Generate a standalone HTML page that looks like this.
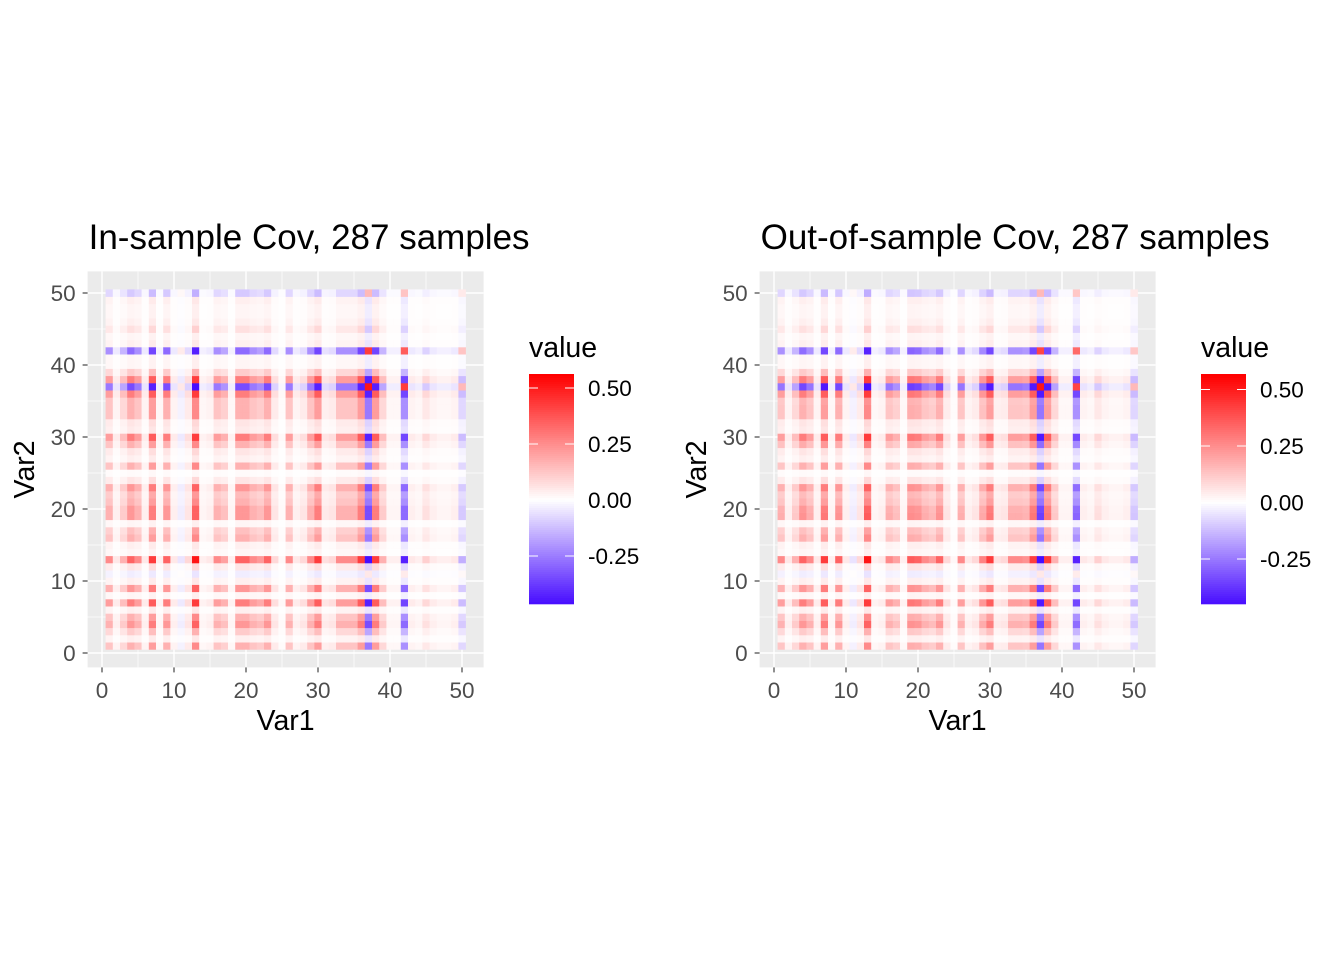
<!DOCTYPE html>
<html><head><meta charset="utf-8"><style>
html,body{margin:0;padding:0;background:#fff;}
svg{display:block;font-family:"Liberation Sans",Arial,sans-serif;}
</style></head><body>
<svg id="chart" width="1344" height="960" viewBox="0 0 1344 960" xmlns="http://www.w3.org/2000/svg">
<rect width="1344" height="960" fill="#fff"/>
</svg>
<script>
// Per-variable loading estimates (variables 1..50)
const variables = Array.from({length:50},(_,i)=>i+1);
const loadingsIn = [1.5,0.3,1,2,1.5,0.3,2.5,0.2,2,0.3,-0.3,0.5,3,0.2,0.3,1.5,1.2,0.2,2,2,1.5,1.3,2,0.5,0.1,1.5,0.3,0.5,1.5,2.5,0.4,0.5,1.5,1.5,1.5,2.5,-3,2.5,1,0.2,0.2,-2.5,0.3,0.2,0.6,0.3,0.2,0.2,0.3,-0.9];
const loadingsOut = [1.5,0.3,1,2,1.5,0.3,2.5,0.2,2,0.3,-0.3,0.5,3,0.2,0.3,1.5,1.2,0.2,2.1,2,1.5,1.3,2,0.5,0.1,1.5,0.3,0.5,1.6,2.5,0.4,0.5,1.5,1.5,1.4,2.5,-3,2.5,1,0.2,0.2,-2.4,0.3,0.2,0.6,0.3,0.2,0.2,0.3,-0.9];
const covScale = 0.057;
const xTicks = [0,10,20,30,40,50];
const yTicks = [0,10,20,30,40,50];
const legendTicksIn = [0.5,0.25,0,-0.25];
const legendTicksOut = [0.5,0.25,0,-0.25];
const limitsIn = [-0.464,0.558];
const limitsOut = [-0.45,0.56];

const NS="http://www.w3.org/2000/svg";
const svg=document.getElementById('chart');
function mk(tag,attrs,parent){const e=document.createElementNS(NS,tag);for(const k in attrs)e.setAttribute(k,attrs[k]);(parent||svg).appendChild(e);return e;}

function colorFor(v,lim){
  let r,g,b;
  if(v>=0){const t=Math.min(1,v/lim[1]);r=255;g=Math.round(255*(1-t));b=g;}
  else{const t=Math.min(1,v/lim[0]);r=Math.round(255*(1-0.72*t));g=Math.round(255*(1-0.95*t));b=255;}
  return `rgb(${r},${g},${b})`;
}

function panel(ox,title,loadings,lim,legTicks,legX,legScale0,legPer,name){
  const g=mk('g',{});
  
  
  const unit=7.2;
  const xs=v=>ox+v*unit;
  const ys=v=>653-v*unit;
  const bg=mk('rect',{x:xs(-2),y:ys(53),width:55*unit,height:55*unit,fill:'#EBEBEB'},g);
  
  
  for(let v=5;v<=45;v+=10){
    mk('line',{x1:xs(v),x2:xs(v),y1:ys(53),y2:ys(-2),stroke:'#fff','stroke-width':0.7},g);
    mk('line',{y1:ys(v),y2:ys(v),x1:xs(-2),x2:xs(53),stroke:'#fff','stroke-width':0.7},g);
  }
  xTicks.forEach(v=>mk('line',{x1:xs(v),x2:xs(v),y1:ys(53),y2:ys(-2),stroke:'#fff','stroke-width':1.4},g));
  yTicks.forEach(v=>mk('line',{y1:ys(v),y2:ys(v),x1:xs(-2),x2:xs(53),stroke:'#fff','stroke-width':1.4},g));
  const cells=mk('g',{},g);
  
  
  variables.forEach((vi,i)=>{variables.forEach((vj,j)=>{
    const val=loadings[i]*loadings[j]*covScale;
    const c=mk('rect',{x:xs(vi-0.5),y:ys(vj+0.5),width:unit+0.3,height:unit+0.3,fill:colorFor(val,lim)},cells);
    
    
  });});
  xTicks.forEach(v=>{
    mk('line',{x1:xs(v),x2:xs(v),y1:ys(-2),y2:ys(-2)+5,stroke:'#333','stroke-width':1.1},g);
    const t=mk('text',{x:xs(v),y:698,'text-anchor':'middle','font-size':22.5,fill:'#4D4D4D'},g);t.textContent=v;
    
    
  });
  yTicks.forEach(v=>{
    mk('line',{x1:xs(-2)-5,x2:xs(-2),y1:ys(v),y2:ys(v),stroke:'#333','stroke-width':1.1},g);
    const t=mk('text',{x:xs(-2)-12,y:ys(v)+8,'text-anchor':'end','font-size':22.5,fill:'#4D4D4D'},g);t.textContent=v;
    
    
  });
  const xt=mk('text',{x:xs(25.5),y:730,'text-anchor':'middle','font-size':28.5,fill:'#000'},g);xt.textContent='Var1';
  
  
  const yt=mk('text',{x:0,y:0,'text-anchor':'middle','font-size':28.5,fill:'#000',transform:`translate(${ox-68},${ys(25.5)}) rotate(-90)`},g);yt.textContent='Var2';
  
  
  const tt=mk('text',{x:xs(-2)+1,y:249,'font-size':35,fill:'#000'},g);tt.textContent=title;
  
  
  // legend
  const lg=mk('g',{},g);
  
  
  const lt=mk('text',{x:legX,y:357,'font-size':28.5,fill:'#000'},lg);lt.textContent='value';
  
  
  const top=374,bot=604;
  for(let y=top;y<bot;y+=2){
    const v=(legScale0-(y+1))/legPer*0.25;
    mk('rect',{x:legX,y:y,width:45,height:2.3,fill:colorFor(v,lim)},lg);
  }
  legTicks.forEach(v=>{
    const y=legScale0-v/0.25*legPer;
    mk('line',{x1:legX,x2:legX+9,y1:y,y2:y,stroke:'#fff','stroke-width':1},lg);
    mk('line',{x1:legX+36,x2:legX+45,y1:y,y2:y,stroke:'#fff','stroke-width':1},lg);
    const t=mk('text',{x:legX+59,y:y+8,'font-size':22.5,fill:'#000'},lg);t.textContent=v.toFixed(2);
    
    
  });
}
panel(102,'In-sample Cov, 287 samples',loadingsIn,limitsIn,legendTicksIn,529,500,56,'in-sample-panel');
panel(774,'Out-of-sample Cov, 287 samples',loadingsOut,limitsOut,legendTicksOut,1201,502.5,56.5,'out-of-sample-panel');
</script>
</body></html>
